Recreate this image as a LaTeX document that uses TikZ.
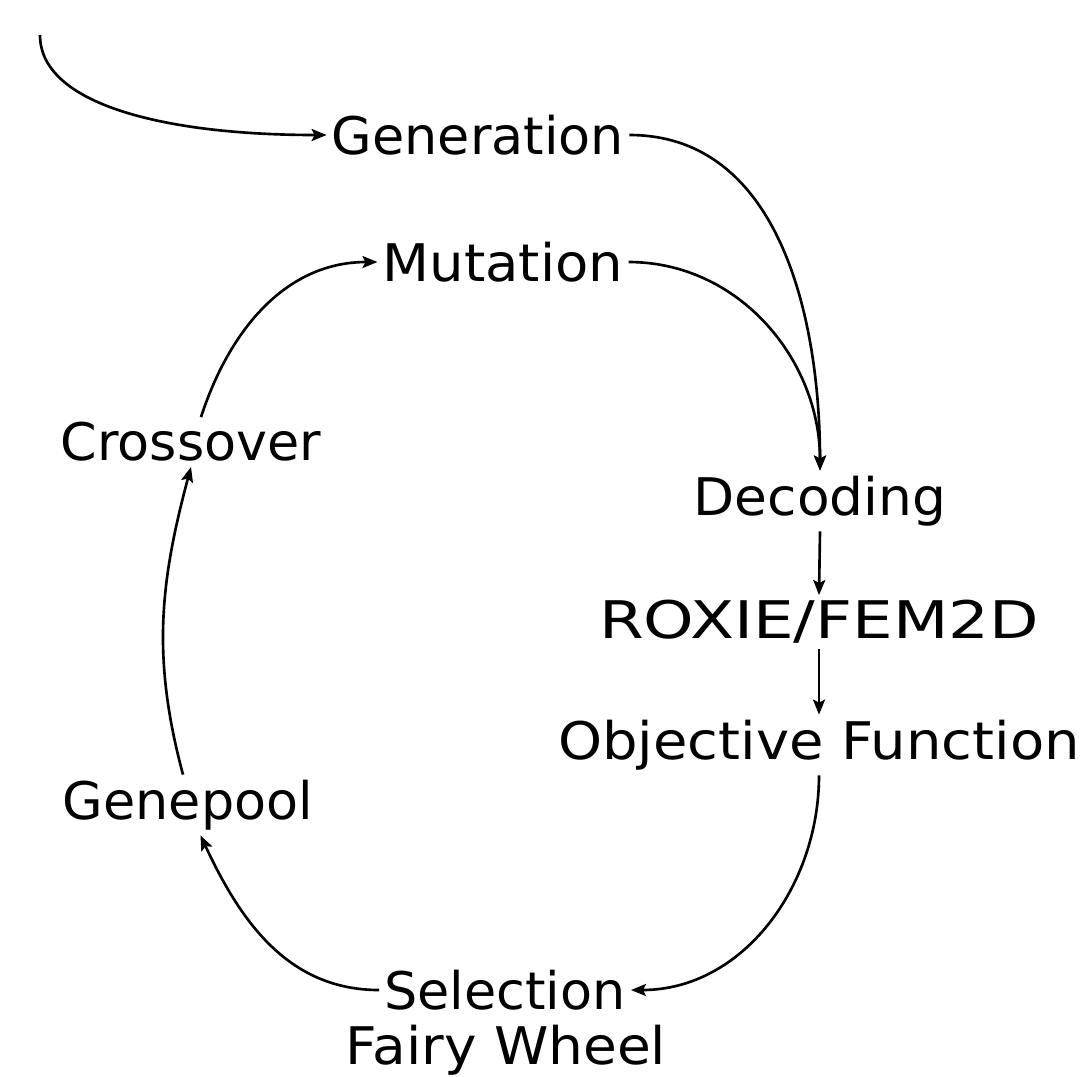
\documentclass[tikz,border=0pt]{standalone}
\usepackage{fontspec}
\setmainfont{DejaVu Sans}
\usetikzlibrary{arrows.meta}
\usetikzlibrary{positioning}

\begin{document}
\begin{tikzpicture}[line width=1.5pt,
	>={Stealth[length=0.3cm,width=0.24cm,inset=0.06cm]},
	every node/.style={inner sep=0.08cm,font=\fontsize{29.5}{34}\selectfont},
	step name/.style={anchor=center,font=\fontsize{29.5}{34}\selectfont\addfontfeature{FakeStretch=#1}},
	step name/.default=1.0]
	\useasboundingbox (0,0) rectangle (21.74,-21.52);
		\coordinate (st) at (0.8,-0.7);
		\node [step name=1.01] (Gen) at (9.56,-2.70) {Generation};
		\node [step name=1.05] (Mut) at (10.06,-5.24) {Mutation};
		\node [step name=1.01] (Cross) at (3.82,-8.84) {Crossover};
		\node [step name=1.03] (Dec) at (16.40,-10.02) {Decoding};
		\node [step name=1.24] (Rox) at (16.38,-12.44) {ROXIE/FEM2D};
		\node [step name=1.08] (Obj) at (16.38,-14.90) {Objective Function};
		\node [step name=1.01] (Gene) at (3.76,-16.10) {Genepool};
		\node [step name=1.01] (Sel) at (10.10,-19.80) {Selection};
		\node [step name=1.06] (Fair) at (10.12,-21.00) {Fairy Wheel};

		\draw [->] (st) .. controls +(0,-1.4) and +(-3.2,0) .. (Gen.west);
		\draw [->] (Gen.east) to [out=0,in=90] (Dec.north);
		\draw [->] (Mut.east) to [out=0,in=90] (Dec.north);
		\draw [->] (Dec.south) -- (Rox.north);
		\draw [->] (Rox.south) -- (Obj.north);
		\draw [->] (Obj.south) to [out=-90,in=0] (Sel.east);
		\draw [->] (Sel.west) to [out=180,in=-65] ([xshift=0.25cm]Gene.south);
		\draw [->] ([xshift=-0.1cm]Gene.north) to [out=105,in=-105] (Cross.south);
		\draw [->] ([xshift=0.2cm]Cross.north) to [out=72,in=180] (Mut.west);
\end{tikzpicture}
\end{document}
